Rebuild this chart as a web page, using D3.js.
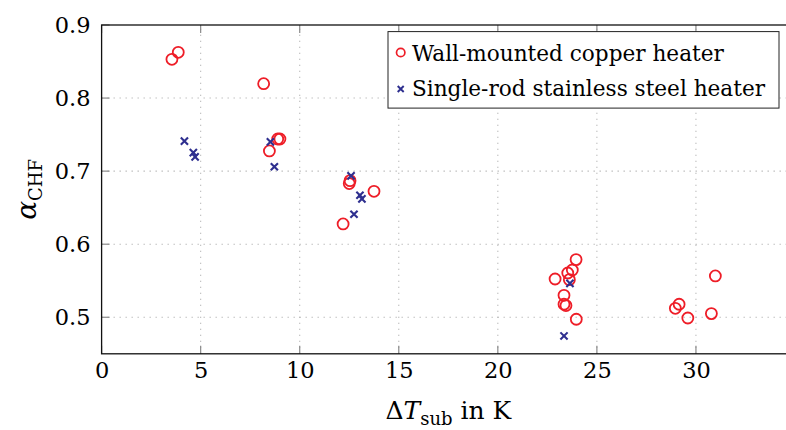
<!DOCTYPE html>
<html>
<head>
<meta charset="utf-8">
<script src="https://cdn.jsdelivr.net/npm/d3@7"></script>
<style>
  html, body { margin: 0; padding: 0; background: #fff; }
  svg { display: block; }
  text { font-family: "DejaVu Serif", "Liberation Serif", serif; fill: #000; }
</style>
</head>
<body>
<svg id="chart" width="786" height="430"></svg>
<script>
// Subcooling (K) and CHF enhancement factor, wall-mounted copper heater
const copperSub   = [3.55, 3.87, 8.18, 8.89, 9.0, 8.47, 12.54, 12.5, 13.75, 12.19,
                     23.95, 23.76, 23.53, 22.89, 23.61, 23.34, 23.34, 23.44, 23.96,
                     30.98, 29.15, 28.96, 29.59, 30.78];
const copperAlpha = [0.853, 0.8626, 0.8197, 0.744, 0.744, 0.7276, 0.687, 0.683, 0.6724, 0.6277,
                     0.5789, 0.5647, 0.5606, 0.5524, 0.5515, 0.530, 0.5178, 0.516, 0.4973,
                     0.5566, 0.5178, 0.5123, 0.499, 0.505];

// Single-rod stainless steel heater
const rodSub   = [4.18, 4.63, 4.72, 8.52, 8.72, 12.59, 13.04, 13.14, 12.74, 23.64, 23.34];
const rodAlpha = [0.741, 0.7253, 0.7194, 0.740, 0.706, 0.6934, 0.667, 0.662, 0.641, 0.5465, 0.4744];

const xTicks = [0, 5, 10, 15, 20, 25, 30];
const yTicks = [0.5, 0.6, 0.7, 0.8, 0.9];
const legendLabels = ["Wall-mounted copper heater", "Single-rod stainless steel heater"];

const RED = "#ee1d27";
const BLUE = "#2e2f8f";

const svg = d3.select("#chart");
const pLeft = 101.6, pRight = 795, pTop = 25, pBottom = 353.8;

const x = d3.scaleLinear().domain([0, 35]).range([pLeft, pRight]);
const y = d3.scaleLinear().domain([0.45, 0.9]).range([pBottom, pTop]);

// dotted grid
const grid = svg.append("g").attr("stroke", "#a8a8a8").attr("stroke-width", 1.1)
  .attr("stroke-dasharray", "1.1,4.9");
grid.selectAll("line.gx").data(xTicks.filter(d => d > 0)).join("line").attr("class", "gx")
  .attr("x1", d => x(d)).attr("x2", d => x(d)).attr("y1", pBottom).attr("y2", pTop);
grid.selectAll("line.gy").data(yTicks.filter(d => d < 0.9)).join("line").attr("class", "gy")
  .attr("y1", d => y(d)).attr("y2", d => y(d)).attr("x1", pLeft).attr("x2", pRight);

// inward tick marks on all sides
const tl = 8;
const ticks = svg.append("g").attr("stroke", "#8a8a8a").attr("stroke-width", 1.2);
xTicks.forEach(d => {
  ticks.append("line").attr("x1", x(d)).attr("x2", x(d)).attr("y1", pBottom).attr("y2", pBottom - tl);
  ticks.append("line").attr("x1", x(d)).attr("x2", x(d)).attr("y1", pTop).attr("y2", pTop + tl);
});
yTicks.forEach(d => {
  ticks.append("line").attr("y1", y(d)).attr("y2", y(d)).attr("x1", pLeft).attr("x2", pLeft + tl);
  ticks.append("line").attr("y1", y(d)).attr("y2", y(d)).attr("x1", pRight).attr("x2", pRight - tl);
});

// axis frame
svg.append("rect").attr("x", pLeft).attr("y", pTop)
  .attr("width", pRight - pLeft).attr("height", pBottom - pTop)
  .attr("fill", "none").attr("stroke", "#111").attr("stroke-width", 1.3);

// tick labels through d3 axes
const xAxis = d3.axisBottom(x).tickValues(xTicks).tickSize(0).tickPadding(8)
  .tickFormat(d3.format("d"));
const gx = svg.append("g").attr("transform", `translate(0,${pBottom})`).call(xAxis);
gx.select(".domain").remove();
gx.selectAll("text").attr("font-size", 22.5).attr("font-family", "DejaVu Serif").attr("fill", "#000");

const yAxis = d3.axisLeft(y).tickValues(yTicks).tickSize(0).tickPadding(11)
  .tickFormat(d3.format(".1f"));
const gy = svg.append("g").attr("transform", `translate(${pLeft},0)`).call(yAxis);
gy.select(".domain").remove();
gy.selectAll("text").attr("font-size", 22.5).attr("font-family", "DejaVu Serif").attr("fill", "#000");

// axis titles
const xl = svg.append("text").attr("x", (pLeft + pRight) / 2).attr("y", 419)
  .attr("text-anchor", "middle").attr("font-size", 25);
xl.append("tspan").text("Δ");
xl.append("tspan").attr("font-style", "italic").text("T");
xl.append("tspan").attr("font-size", 18).attr("dy", 6).text("sub");
xl.append("tspan").attr("dy", -6).text(" in K");

const yl = svg.append("text").attr("transform", `translate(36,${(pTop + pBottom) / 2}) rotate(-90)`)
  .attr("text-anchor", "middle").attr("font-size", 28);
yl.append("tspan").attr("font-style", "italic").text("α");
yl.append("tspan").attr("font-size", 18).attr("dy", 6).text("CHF");

// markers
function cross(g, cx, cy, s, w) {
  g.append("path").attr("d", `M${cx - s},${cy - s}L${cx + s},${cy + s}M${cx - s},${cy + s}L${cx + s},${cy - s}`)
    .attr("stroke", BLUE).attr("stroke-width", w).attr("fill", "none");
}

const marks = svg.append("g");
marks.selectAll("circle").data(d3.range(copperSub.length)).join("circle")
  .attr("cx", i => x(copperSub[i])).attr("cy", i => y(copperAlpha[i])).attr("r", 5.5)
  .attr("fill", "none").attr("stroke", RED).attr("stroke-width", 1.8);
const crossG = svg.append("g");
rodSub.forEach((v, i) => cross(crossG, x(v), y(rodAlpha[i]), 3.6, 2.1));

// legend
const lg = svg.append("g");
lg.append("rect").attr("x", 388).attr("y", 31.6).attr("width", 391).attr("height", 76.5)
  .attr("fill", "#fff").attr("stroke", "#222").attr("stroke-width", 1);
lg.append("circle").attr("cx", 400.7).attr("cy", 52.5).attr("r", 4.2)
  .attr("fill", "none").attr("stroke", RED).attr("stroke-width", 1.7);
cross(lg, 400.7, 89, 3, 1.9);
legendLabels.forEach((t, i) => {
  lg.append("text").attr("x", 412).attr("y", i === 0 ? 60.5 : 95.5)
    .attr("font-size", 21.6).text(t);
});
</script>
</body>
</html>
